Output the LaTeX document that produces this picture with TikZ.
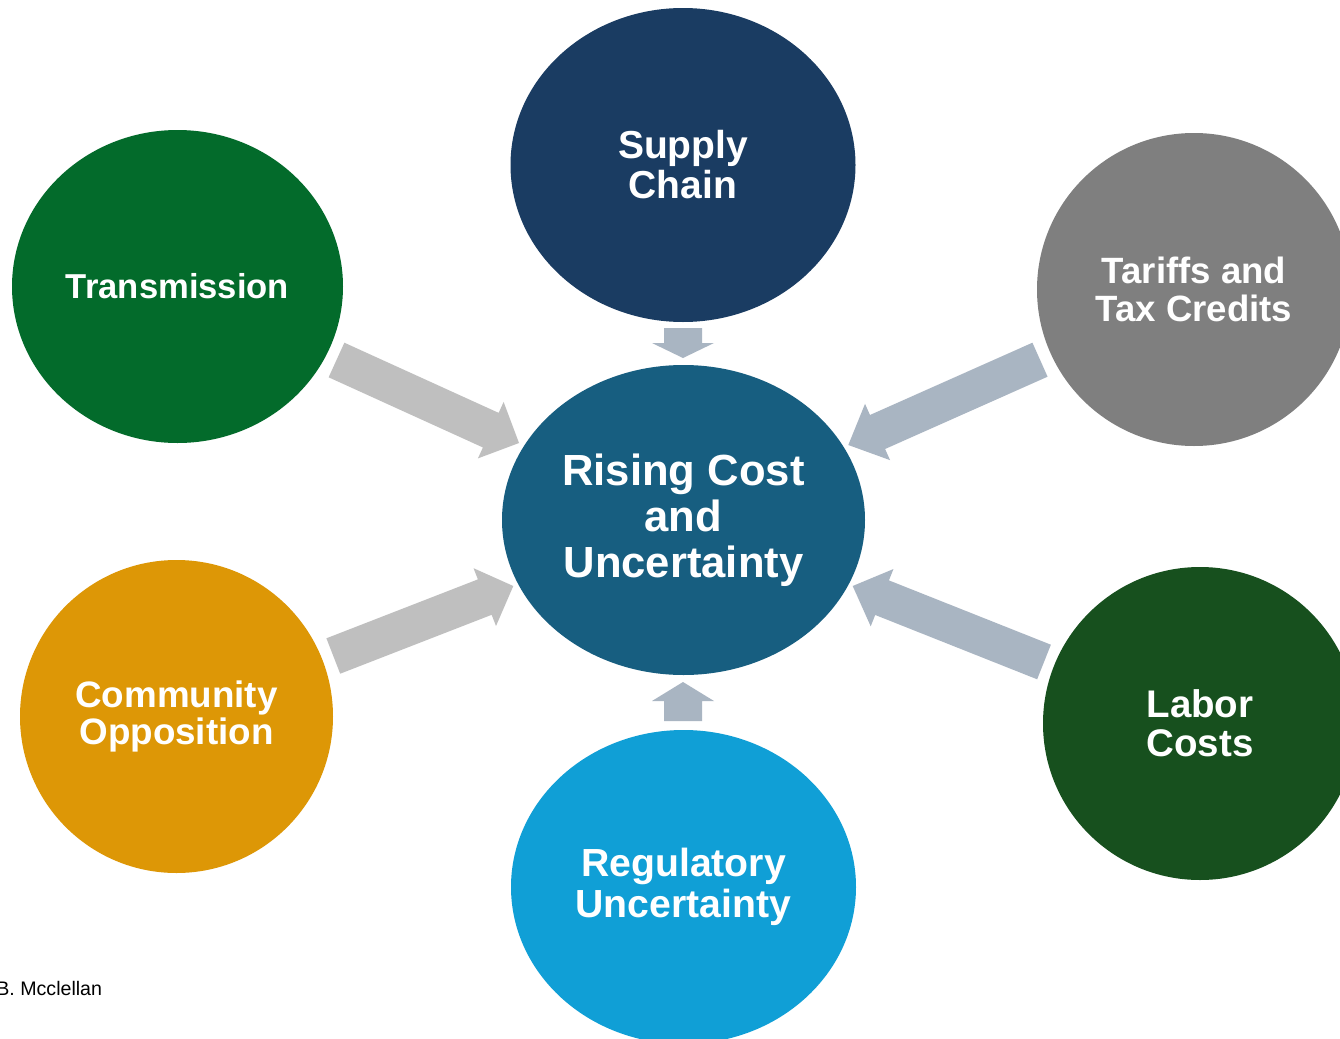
\documentclass[tikz,border=0pt]{standalone}
\usepackage{fontspec}
\setmainfont{Liberation Sans}
\usetikzlibrary{shapes.geometric,calc}
\definecolor{cSupply}{HTML}{1A3C62}
\definecolor{cTrans}{HTML}{036B2B}
\definecolor{cTariff}{HTML}{7F7F7F}
\definecolor{cCenter}{HTML}{175E80}
\definecolor{cComm}{HTML}{DD9706}
\definecolor{cLabor}{HTML}{17501E}
\definecolor{cReg}{HTML}{109FD6}
\definecolor{arrGray}{HTML}{BFBFBF}
\definecolor{arrBlue}{HTML}{A9B5C2}
% #1 tail coordinate, #2 tip coordinate, #3 shaft half width, #4 head half width, #5 head length, #6 style
\newcommand\blockarr[6]{%
  \coordinate (#1-neck) at ($(#2)!#5!(#1)$);
  \fill[#6] ($(#1)!#3!90:(#2)$) -- ($(#1-neck)!#3!90:(#2)$) -- ($(#1-neck)!#4!90:(#2)$)
    -- (#2) -- ($(#1-neck)!#4!-90:(#2)$) -- ($(#1-neck)!#3!-90:(#2)$) -- ($(#1)!#3!-90:(#2)$) -- cycle;
}
\tikzset{
  bub/.style={ellipse, inner sep=0pt, text=white, align=center},
  bt/.style={font=\bfseries\fontsize{#1pt}{1.03*#1pt}\selectfont},
  grayarr/.style={fill=arrGray},
  bluearr/.style={fill=arrBlue}
}
\begin{document}
\begin{tikzpicture}[x=0.5pt,y=-0.5pt]
\useasboundingbox (0,0) rectangle (1340,1039);
\fill[white] (0,0) rectangle (1340,1039);

\node[bub, fill=cSupply, minimum width=172.5pt, minimum height=157pt, font=\bfseries\fontsize{19.5pt}{20pt}\selectfont] (supply) at (683,165) {Supply\\Chain};
\node[bub, fill=cTrans, minimum width=165.5pt, minimum height=156.5pt, font=\bfseries\fontsize{17.3pt}{18pt}\selectfont] (trans) at (177.5,286.5) {Transmission};
\node[bub, fill=cTariff, minimum width=157pt, minimum height=156.5pt, font=\bfseries\fontsize{18.3pt}{19pt}\selectfont] (tariff) at (1194,289.5) {Tariffs and\\Tax Credits};
\node[bub, fill=cCenter, minimum width=181.5pt, minimum height=155pt, font=\bfseries\fontsize{21.8pt}{23pt}\selectfont] (center) at (683.5,520) {Rising Cost\\and\\Uncertainty};
\node[bub, fill=cComm, minimum width=156.5pt, minimum height=156.5pt, font=\bfseries\fontsize{18.4pt}{18.5pt}\selectfont] (comm) at (176.5,716.5) {Community\\Opposition};
\node[bub, fill=cLabor, minimum width=157pt, minimum height=156.5pt, font=\bfseries\fontsize{19.25pt}{19.5pt}\selectfont] (labor) at (1200,723.5) {Labor\\Costs};
\node[bub, fill=cReg, minimum width=172.5pt, minimum height=157pt, font=\bfseries\fontsize{19.6pt}{20.5pt}\selectfont] (reg) at (683.5,887) {Regulatory\\Uncertainty};

\coordinate (aS) at (683,328);   \coordinate (tS) at (683,358);
\coordinate (aR) at (683,721);   \coordinate (tR) at (683,682);
\coordinate (aT) at (336.5,360); \coordinate (tT) at (519,443);
\coordinate (aX) at (1040,359.7);\coordinate (tX) at (848.3,445);
\coordinate (aC) at (333.3,656); \coordinate (tC) at (513.3,586);
\coordinate (aL) at (1044,662);  \coordinate (tL) at (852.7,586);

\blockarr{aS}{tS}{9.5pt}{15.5pt}{7.5pt}{bluearr}
\blockarr{aR}{tR}{9.5pt}{15.5pt}{9.5pt}{bluearr}
\blockarr{aT}{tT}{9.5pt}{15.5pt}{15.5pt}{grayarr}
\blockarr{aX}{tX}{9.3pt}{15.4pt}{16pt}{bluearr}
\blockarr{aC}{tC}{9.5pt}{15.5pt}{15.3pt}{grayarr}
\blockarr{aL}{tL}{9.3pt}{15.4pt}{15.8pt}{bluearr}

\node[anchor=west, inner sep=0pt, font=\fontsize{9.8pt}{11pt}\selectfont] (credit) at (-4,988) {B. Mcclellan};
\end{tikzpicture}
\end{document}
